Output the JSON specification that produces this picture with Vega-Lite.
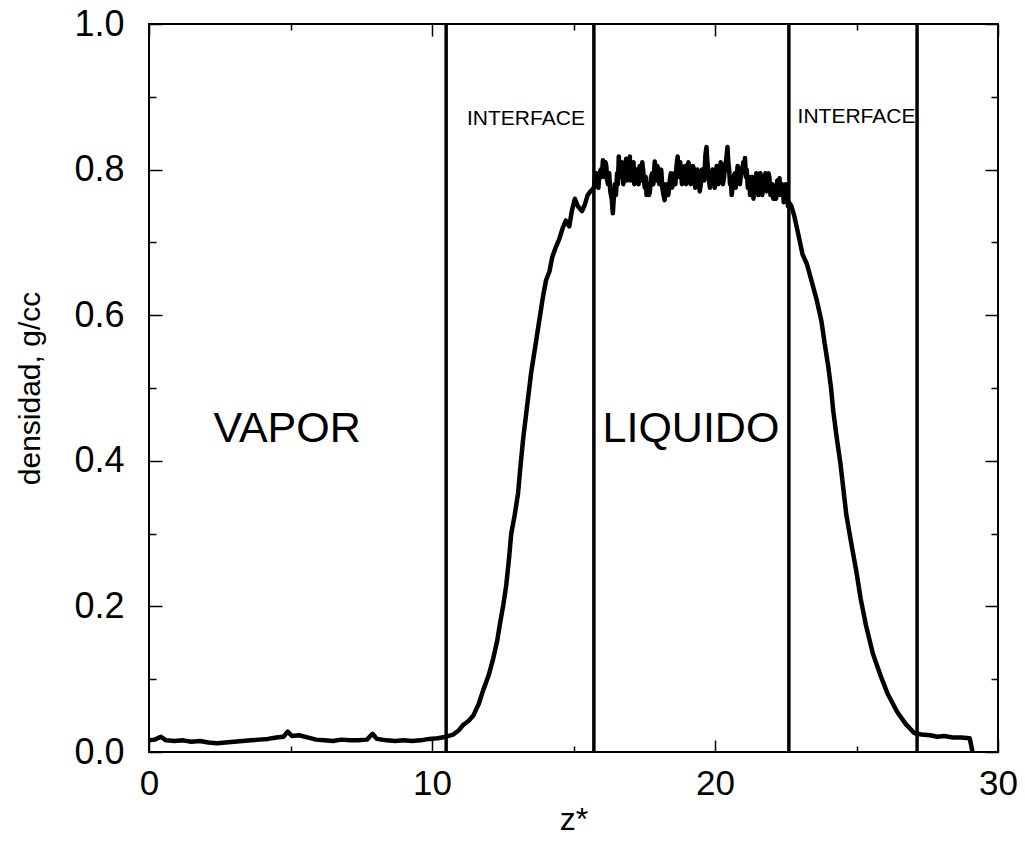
{
  "$schema": "https://vega.github.io/schema/vega-lite/v6.json",
  "width": 849,
  "height": 728,
  "autosize": "none",
  "padding": {"left": 149, "top": 24, "right": 27, "bottom": 89},
  "background": "white",
  "config": {
    "view": {"stroke": "black", "strokeWidth": 2},
    "font": "Liberation Sans",
    "axis": {"domain": false, "grid": false, "tickColor": "black", "tickWidth": 1.5, "labelColor": "black", "titleColor": "black", "labelFont": "Liberation Sans", "titleFont": "Liberation Sans", "titleFontWeight": "normal"}
  },
  "datasets": {
    "profile": [
      {"z": 0.0, "d": 0.016}, {"z": 0.2, "d": 0.017}, {"z": 0.42, "d": 0.021}, {"z": 0.6, "d": 0.016}, {"z": 0.9, "d": 0.015},
      {"z": 1.2, "d": 0.016}, {"z": 1.5, "d": 0.014}, {"z": 1.8, "d": 0.015}, {"z": 2.1, "d": 0.013}, {"z": 2.4, "d": 0.012},
      {"z": 2.7, "d": 0.013}, {"z": 3.0, "d": 0.014}, {"z": 3.3, "d": 0.015}, {"z": 3.6, "d": 0.016}, {"z": 3.9, "d": 0.017},
      {"z": 4.2, "d": 0.018}, {"z": 4.5, "d": 0.02}, {"z": 4.75, "d": 0.021}, {"z": 4.9, "d": 0.028}, {"z": 5.05, "d": 0.022},
      {"z": 5.3, "d": 0.023}, {"z": 5.6, "d": 0.02}, {"z": 5.9, "d": 0.017}, {"z": 6.2, "d": 0.016}, {"z": 6.5, "d": 0.015},
      {"z": 6.8, "d": 0.017}, {"z": 7.1, "d": 0.016}, {"z": 7.4, "d": 0.016}, {"z": 7.7, "d": 0.017}, {"z": 7.9, "d": 0.025},
      {"z": 8.05, "d": 0.018}, {"z": 8.4, "d": 0.016}, {"z": 8.7, "d": 0.015}, {"z": 9.0, "d": 0.016}, {"z": 9.3, "d": 0.015},
      {"z": 9.6, "d": 0.016}, {"z": 9.9, "d": 0.018}, {"z": 10.2, "d": 0.019}, {"z": 10.5, "d": 0.021}, {"z": 10.75, "d": 0.024},
      {"z": 10.95, "d": 0.03}, {"z": 11.1, "d": 0.037}, {"z": 11.3, "d": 0.043}, {"z": 11.46, "d": 0.05}, {"z": 11.65, "d": 0.066},
      {"z": 11.81, "d": 0.085}, {"z": 12.0, "d": 0.105}, {"z": 12.16, "d": 0.128}, {"z": 12.3, "d": 0.152}, {"z": 12.41, "d": 0.178},
      {"z": 12.52, "d": 0.202}, {"z": 12.62, "d": 0.228}, {"z": 12.72, "d": 0.265}, {"z": 12.8, "d": 0.3}, {"z": 12.92, "d": 0.325},
      {"z": 13.04, "d": 0.355}, {"z": 13.12, "d": 0.39}, {"z": 13.22, "d": 0.43}, {"z": 13.36, "d": 0.475}, {"z": 13.5, "d": 0.52},
      {"z": 13.66, "d": 0.56}, {"z": 13.82, "d": 0.6}, {"z": 13.92, "d": 0.625}, {"z": 14.03, "d": 0.648}, {"z": 14.15, "d": 0.66},
      {"z": 14.25, "d": 0.68}, {"z": 14.38, "d": 0.694}, {"z": 14.5, "d": 0.705}, {"z": 14.62, "d": 0.72}, {"z": 14.73, "d": 0.73},
      {"z": 14.85, "d": 0.722}, {"z": 14.95, "d": 0.745}, {"z": 15.05, "d": 0.76}, {"z": 15.15, "d": 0.75}, {"z": 15.3, "d": 0.743},
      {"z": 15.4, "d": 0.752}, {"z": 15.5, "d": 0.765}, {"z": 15.6, "d": 0.77},
      {"z": 15.72, "d": 0.775}, {"z": 15.76, "d": 0.79}, {"z": 15.8, "d": 0.795}, {"z": 15.84, "d": 0.78}, {"z": 15.88, "d": 0.775},
      {"z": 15.92, "d": 0.795}, {"z": 15.96, "d": 0.8}, {"z": 16.0, "d": 0.79}, {"z": 16.04, "d": 0.813}, {"z": 16.07, "d": 0.8},
      {"z": 16.1, "d": 0.79}, {"z": 16.13, "d": 0.81}, {"z": 16.16, "d": 0.805}, {"z": 16.19, "d": 0.785}, {"z": 16.22, "d": 0.78},
      {"z": 16.26, "d": 0.795}, {"z": 16.3, "d": 0.77}, {"z": 16.35, "d": 0.76}, {"z": 16.39, "d": 0.74}, {"z": 16.43, "d": 0.765},
      {"z": 16.46, "d": 0.78}, {"z": 16.5, "d": 0.765}, {"z": 16.54, "d": 0.795}, {"z": 16.57, "d": 0.78}, {"z": 16.6, "d": 0.818},
      {"z": 16.63, "d": 0.8}, {"z": 16.66, "d": 0.79}, {"z": 16.69, "d": 0.805}, {"z": 16.72, "d": 0.81}, {"z": 16.76, "d": 0.78},
      {"z": 16.8, "d": 0.795}, {"z": 16.83, "d": 0.805}, {"z": 16.86, "d": 0.815}, {"z": 16.89, "d": 0.785}, {"z": 16.92, "d": 0.79},
      {"z": 16.96, "d": 0.81}, {"z": 16.99, "d": 0.818}, {"z": 17.02, "d": 0.785}, {"z": 17.05, "d": 0.79}, {"z": 17.09, "d": 0.8},
      {"z": 17.12, "d": 0.81}, {"z": 17.15, "d": 0.78}, {"z": 17.18, "d": 0.785}, {"z": 17.22, "d": 0.8}, {"z": 17.25, "d": 0.8},
      {"z": 17.3, "d": 0.78}, {"z": 17.34, "d": 0.805}, {"z": 17.37, "d": 0.79}, {"z": 17.4, "d": 0.785}, {"z": 17.43, "d": 0.81},
      {"z": 17.46, "d": 0.8}, {"z": 17.49, "d": 0.785}, {"z": 17.52, "d": 0.775}, {"z": 17.55, "d": 0.79}, {"z": 17.58, "d": 0.765},
      {"z": 17.61, "d": 0.775}, {"z": 17.64, "d": 0.78}, {"z": 17.67, "d": 0.765}, {"z": 17.7, "d": 0.77}, {"z": 17.74, "d": 0.79},
      {"z": 17.78, "d": 0.795}, {"z": 17.82, "d": 0.78}, {"z": 17.87, "d": 0.811}, {"z": 17.9, "d": 0.8}, {"z": 17.93, "d": 0.785},
      {"z": 17.96, "d": 0.805}, {"z": 18.0, "d": 0.8}, {"z": 18.03, "d": 0.78}, {"z": 18.06, "d": 0.79}, {"z": 18.1, "d": 0.8},
      {"z": 18.14, "d": 0.775}, {"z": 18.18, "d": 0.765}, {"z": 18.22, "d": 0.758}, {"z": 18.26, "d": 0.78}, {"z": 18.3, "d": 0.775},
      {"z": 18.35, "d": 0.765}, {"z": 18.4, "d": 0.785}, {"z": 18.44, "d": 0.795}, {"z": 18.48, "d": 0.775}, {"z": 18.52, "d": 0.78},
      {"z": 18.56, "d": 0.795}, {"z": 18.6, "d": 0.78}, {"z": 18.64, "d": 0.805}, {"z": 18.68, "d": 0.818}, {"z": 18.71, "d": 0.8},
      {"z": 18.74, "d": 0.79}, {"z": 18.77, "d": 0.81}, {"z": 18.8, "d": 0.8}, {"z": 18.83, "d": 0.78}, {"z": 18.86, "d": 0.785},
      {"z": 18.9, "d": 0.8}, {"z": 18.94, "d": 0.805}, {"z": 18.98, "d": 0.78}, {"z": 19.02, "d": 0.79}, {"z": 19.06, "d": 0.81},
      {"z": 19.1, "d": 0.805}, {"z": 19.14, "d": 0.78}, {"z": 19.18, "d": 0.785}, {"z": 19.22, "d": 0.805}, {"z": 19.26, "d": 0.8},
      {"z": 19.3, "d": 0.775}, {"z": 19.35, "d": 0.785}, {"z": 19.38, "d": 0.8}, {"z": 19.42, "d": 0.795}, {"z": 19.46, "d": 0.77},
      {"z": 19.5, "d": 0.78}, {"z": 19.54, "d": 0.8}, {"z": 19.58, "d": 0.8}, {"z": 19.62, "d": 0.785}, {"z": 19.66, "d": 0.82},
      {"z": 19.7, "d": 0.831}, {"z": 19.73, "d": 0.81}, {"z": 19.76, "d": 0.8}, {"z": 19.79, "d": 0.785}, {"z": 19.82, "d": 0.775},
      {"z": 19.85, "d": 0.79}, {"z": 19.88, "d": 0.78}, {"z": 19.92, "d": 0.8}, {"z": 19.96, "d": 0.795}, {"z": 19.99, "d": 0.775},
      {"z": 20.02, "d": 0.785}, {"z": 20.06, "d": 0.805}, {"z": 20.09, "d": 0.8}, {"z": 20.12, "d": 0.78}, {"z": 20.16, "d": 0.79},
      {"z": 20.2, "d": 0.81}, {"z": 20.24, "d": 0.805}, {"z": 20.28, "d": 0.78}, {"z": 20.32, "d": 0.79}, {"z": 20.36, "d": 0.805},
      {"z": 20.4, "d": 0.815}, {"z": 20.44, "d": 0.831}, {"z": 20.47, "d": 0.81}, {"z": 20.5, "d": 0.8}, {"z": 20.53, "d": 0.78},
      {"z": 20.56, "d": 0.785}, {"z": 20.59, "d": 0.765}, {"z": 20.62, "d": 0.775}, {"z": 20.66, "d": 0.79}, {"z": 20.7, "d": 0.795},
      {"z": 20.73, "d": 0.775}, {"z": 20.76, "d": 0.785}, {"z": 20.8, "d": 0.805}, {"z": 20.84, "d": 0.8}, {"z": 20.88, "d": 0.78},
      {"z": 20.92, "d": 0.795}, {"z": 20.96, "d": 0.8}, {"z": 21.0, "d": 0.81}, {"z": 21.03, "d": 0.795}, {"z": 21.06, "d": 0.816},
      {"z": 21.09, "d": 0.79}, {"z": 21.12, "d": 0.8}, {"z": 21.16, "d": 0.775}, {"z": 21.2, "d": 0.79}, {"z": 21.24, "d": 0.765},
      {"z": 21.28, "d": 0.775}, {"z": 21.32, "d": 0.79}, {"z": 21.36, "d": 0.76}, {"z": 21.39, "d": 0.78}, {"z": 21.42, "d": 0.775},
      {"z": 21.46, "d": 0.795}, {"z": 21.5, "d": 0.79}, {"z": 21.53, "d": 0.765}, {"z": 21.56, "d": 0.78}, {"z": 21.6, "d": 0.795},
      {"z": 21.64, "d": 0.788}, {"z": 21.67, "d": 0.765}, {"z": 21.7, "d": 0.775}, {"z": 21.74, "d": 0.785}, {"z": 21.78, "d": 0.795},
      {"z": 21.82, "d": 0.77}, {"z": 21.86, "d": 0.78}, {"z": 21.89, "d": 0.795}, {"z": 21.92, "d": 0.79}, {"z": 21.96, "d": 0.765},
      {"z": 22.0, "d": 0.77}, {"z": 22.03, "d": 0.78}, {"z": 22.06, "d": 0.76}, {"z": 22.09, "d": 0.775}, {"z": 22.12, "d": 0.775},
      {"z": 22.16, "d": 0.76}, {"z": 22.2, "d": 0.785}, {"z": 22.24, "d": 0.77}, {"z": 22.28, "d": 0.788}, {"z": 22.31, "d": 0.765},
      {"z": 22.34, "d": 0.77}, {"z": 22.37, "d": 0.78}, {"z": 22.4, "d": 0.775}, {"z": 22.43, "d": 0.755}, {"z": 22.46, "d": 0.76},
      {"z": 22.5, "d": 0.78}, {"z": 22.54, "d": 0.775}, {"z": 22.58, "d": 0.75}, {"z": 22.61, "d": 0.755},
      {"z": 22.7, "d": 0.75}, {"z": 22.81, "d": 0.735}, {"z": 22.95, "d": 0.71}, {"z": 23.09, "d": 0.684}, {"z": 23.25, "d": 0.67},
      {"z": 23.44, "d": 0.643}, {"z": 23.6, "d": 0.62}, {"z": 23.76, "d": 0.592}, {"z": 23.88, "d": 0.56}, {"z": 24.0, "d": 0.53},
      {"z": 24.1, "d": 0.5}, {"z": 24.18, "d": 0.468}, {"z": 24.3, "d": 0.432}, {"z": 24.43, "d": 0.397}, {"z": 24.54, "d": 0.36},
      {"z": 24.64, "d": 0.326}, {"z": 24.8, "d": 0.29}, {"z": 24.99, "d": 0.249}, {"z": 25.15, "d": 0.21}, {"z": 25.34, "d": 0.173},
      {"z": 25.58, "d": 0.135}, {"z": 25.84, "d": 0.106}, {"z": 26.1, "d": 0.08}, {"z": 26.44, "d": 0.055}, {"z": 26.75, "d": 0.038},
      {"z": 27.04, "d": 0.026}, {"z": 27.3, "d": 0.024}, {"z": 27.6, "d": 0.023}, {"z": 27.85, "d": 0.021}, {"z": 28.1, "d": 0.022},
      {"z": 28.4, "d": 0.02}, {"z": 28.7, "d": 0.02}, {"z": 29.0, "d": 0.019}, {"z": 29.1, "d": 0.0}
    ],
    "interfaces": [{"z": 10.5}, {"z": 15.72}, {"z": 22.61}, {"z": 27.14}],
    "phases": [
      {"z": 4.88, "d": 0.444, "label": "VAPOR"},
      {"z": 19.15, "d": 0.444, "label": "LIQUIDO"}
    ],
    "interfaceLabels": [
      {"z": 13.32, "d": 0.869, "label": "INTERFACE"},
      {"z": 25.0, "d": 0.872, "label": "INTERFACE"}
    ]
  },
  "resolve": {"axis": {"x": "independent", "y": "independent"}},
  "layer": [
    {
      "data": {"name": "profile"},
      "mark": {"type": "line", "color": "black", "strokeWidth": 4.5, "strokeJoin": "round"},
      "encoding": {
        "x": {"field": "z", "type": "quantitative", "scale": {"domain": [0, 30], "nice": false, "zero": false},
          "axis": {"orient": "bottom", "title": "z*", "values": [0, 5, 10, 15, 20, 25, 30],
            "labelExpr": "datum.value % 10 === 0 ? datum.label : ''",
            "tickSize": {"condition": {"test": "datum.value % 10 === 0", "value": -12}, "value": -6},
            "labelFontSize": 35, "labelPadding": 26, "titleFontSize": 32, "titlePadding": 3, "labelFlush": false}},
        "y": {"field": "d", "type": "quantitative", "scale": {"domain": [0, 1], "nice": false},
          "axis": {"orient": "left", "title": "densidad, g/cc", "values": [0, 0.1, 0.2, 0.3, 0.4, 0.5, 0.6, 0.7, 0.8, 0.9, 1.0],
            "format": ".1f",
            "labelExpr": "round(datum.value * 10) % 2 === 0 ? datum.label : ''",
            "tickSize": {"condition": {"test": "round(datum.value * 10) % 2 === 0", "value": -13}, "value": -7},
            "labelFontSize": 36, "labelPadding": 38, "titleFontSize": 30, "titlePadding": 28, "labelFlush": false}}
      }
    },
    {
      "data": {"name": "interfaces"},
      "mark": {"type": "rule", "color": "black", "strokeWidth": 3.5},
      "encoding": {
        "x": {"field": "z", "type": "quantitative",
          "axis": {"orient": "top", "title": null, "values": [0, 5, 10, 15, 20, 25, 30], "labels": false,
            "tickSize": {"condition": {"test": "datum.value % 10 === 0", "value": -12}, "value": -6}}}
      }
    },
    {
      "data": {"name": "phases"},
      "mark": {"type": "text", "fontSize": 43, "font": "Liberation Sans", "color": "black", "align": "center", "baseline": "middle"},
      "encoding": {
        "x": {"field": "z", "type": "quantitative", "axis": null},
        "y": {"field": "d", "type": "quantitative",
          "axis": {"orient": "right", "title": null, "values": [0, 0.1, 0.2, 0.3, 0.4, 0.5, 0.6, 0.7, 0.8, 0.9, 1.0], "labels": false,
            "tickSize": {"condition": {"test": "round(datum.value * 10) % 2 === 0", "value": -13}, "value": -7}}},
        "text": {"field": "label"}
      }
    },
    {
      "data": {"name": "interfaceLabels"},
      "mark": {"type": "text", "fontSize": 21, "font": "Liberation Sans", "color": "black", "align": "center", "baseline": "middle"},
      "encoding": {
        "x": {"field": "z", "type": "quantitative", "axis": null},
        "y": {"field": "d", "type": "quantitative", "axis": null},
        "text": {"field": "label"}
      }
    }
  ]
}
